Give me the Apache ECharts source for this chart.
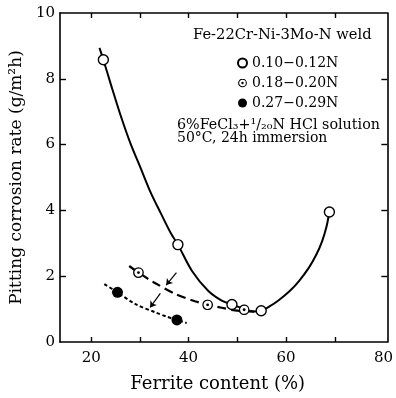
<!DOCTYPE html>
<html>
<head>
<meta charset="utf-8">
<script src="https://cdn.jsdelivr.net/npm/echarts@6/dist/echarts.min.js"></script>
<style>
  html, body { margin: 0; padding: 0; background: #fff; }
  #chart { width: 396px; height: 398px; }
</style>
</head>
<body>
<div id="chart"></div>
<script>
// measured points (ferrite %, rate g/m2h)
const lowN = [[22.5, 8.58], [37.8, 2.96], [48.9, 1.14], [54.9, 0.95], [68.9, 3.95]]
const midN = [[29.7, 2.11], [43.9, 1.13], [51.4, 0.98]]
const highN = [[25.4, 1.51], [37.6, 0.67]]

// hand drawn trend curves
const lowCurve = [[21.7, 8.94], [22.5, 8.58], [24.1, 7.8], [26.1, 6.86], [28.1, 6.02], [30.2, 5.27],
  [32.2, 4.55], [34.2, 3.94], [36.3, 3.32], [37.8, 2.96], [40.7, 2.16], [44.0, 1.56], [46.8, 1.26],
  [48.9, 1.14], [51.5, 1.0], [53.3, 0.93], [54.9, 0.95], [56.6, 1.08], [58.5, 1.27], [60.7, 1.54],
  [62.7, 1.86], [64.7, 2.26], [66.2, 2.65], [67.4, 3.06], [68.3, 3.5], [68.9, 3.95]]
const midCurve = [[27.8, 2.31], [29.7, 2.11], [32.9, 1.81], [37.3, 1.46], [41.3, 1.24], [43.9, 1.13],
  [46.8, 1.04], [49.5, 0.96], [51.4, 0.94], [53.5, 0.92]]
const highCurve = [[22.7, 1.76], [25.4, 1.51], [29.1, 1.15], [33.2, 0.9], [35.5, 0.77],
  [37.6, 0.67], [39.6, 0.58]]
const arrows = [[[37.5, 2.11], [35.4, 1.73]], [[34.2, 1.48], [32.1, 1.05]]]

const names = ['0.10\u22120.12N', '0.18\u22120.20N', '0.27\u22120.29N']
const xTicks = [20, 30, 40, 50, 60, 70]
const xLabels = [20, 40, 60, 80]
const yTicks = [2, 4, 6, 8]
const yLabels = [0, 2, 4, 6, 8, 10]

const font = 'DejaVu Serif'
const ringDot = 'image://data:image/svg+xml;charset=utf-8,' + encodeURIComponent(
  '<svg xmlns="http://www.w3.org/2000/svg" width="20" height="20" viewBox="0 0 20 20">' +
  '<circle cx="10" cy="10" r="8.6" fill="#fff" stroke="#000" stroke-width="2.4"/>' +
  '<circle cx="10" cy="10" r="2.6" fill="#000"/></svg>')

const axisLine = { show: true, onZero: false, lineStyle: { color: '#000', width: 1.6 } }
const tickStyle = { color: '#000', width: 1.4 }

var option = {
  animation: false,
  backgroundColor: '#fff',
  grid: { left: 59, right: 7, top: 13, bottom: 52 },
  legend: {
    orient: 'vertical',
    left: 232,
    top: 51,
    itemWidth: 9,
    itemHeight: 9,
    itemGap: 6,
    data: names,
    textStyle: { fontFamily: font, fontSize: 14, color: '#000' }
  },
  xAxis: [{
    type: 'value',
    min: 13.6,
    max: 80.8,
    name: 'Ferrite content (%)',
    nameLocation: 'middle',
    nameGap: 33,
    nameTextStyle: { fontFamily: font, fontSize: 18, color: '#000', padding: [0, 12, 0, 0] },
    axisLine: axisLine,
    splitLine: { show: false },
    axisTick: { inside: true, length: 5, customValues: xTicks, lineStyle: tickStyle },
    axisLabel: { customValues: xLabels, margin: 9, fontFamily: font, fontSize: 15, color: '#000' }
  }, {
    type: 'value',
    position: 'top',
    min: 13.6,
    max: 80.8,
    axisLine: axisLine,
    splitLine: { show: false },
    axisTick: { inside: true, length: 5, customValues: xTicks, lineStyle: tickStyle },
    axisLabel: { show: false }
  }],
  yAxis: [{
    type: 'value',
    min: 0,
    max: 10,
    name: 'Pitting corrosion rate (g/m\u00b2h)',
    nameLocation: 'middle',
    nameGap: 35,
    nameTextStyle: { fontFamily: font, fontSize: 17, color: '#000' },
    axisLine: axisLine,
    splitLine: { show: false },
    axisTick: { inside: true, length: 6, customValues: yTicks, lineStyle: tickStyle },
    axisLabel: { customValues: yLabels, margin: 5, fontFamily: font, fontSize: 15, color: '#000' }
  }, {
    type: 'value',
    position: 'right',
    min: 0,
    max: 10,
    axisLine: axisLine,
    splitLine: { show: false },
    axisTick: { inside: true, length: 6, customValues: yTicks, lineStyle: tickStyle },
    axisLabel: { show: false }
  }],
  graphic: [
    { type: 'text', left: 193, top: 28, style: { text: 'Fe-22Cr-Ni-3Mo-N weld', font: '14.7px "DejaVu Serif"', fill: '#000' } },
    { type: 'text', left: 177, top: 118, style: { text: '6%FeCl\u2083+\u00b9/\u2082\u2080N HCl solution', font: '14.3px "DejaVu Serif"', fill: '#000' } },
    { type: 'text', left: 177, top: 131, style: { text: '50\u00b0C, 24h immersion', font: '14px "DejaVu Serif"', fill: '#000' } }
  ],
  series: [
    {
      type: 'line', data: lowCurve, smooth: 0.3, symbol: 'none', z: 2,
      lineStyle: { color: '#000', width: 2 }
    },
    {
      type: 'line', data: midCurve, smooth: 0.3, symbol: 'none', z: 2,
      lineStyle: { color: '#000', width: 2.2, type: [9, 5] }
    },
    {
      type: 'line', data: highCurve, smooth: 0.3, symbol: 'none', z: 2,
      lineStyle: { color: '#000', width: 2, type: [3.5, 2.5] }
    },
    {
      type: 'lines', coordinateSystem: 'cartesian2d', z: 2,
      symbol: ['none', 'arrow'], symbolSize: 6,
      lineStyle: { color: '#000', width: 1.2, opacity: 1 },
      data: arrows.map(a => ({ coords: a }))
    },
    {
      name: names[0], type: 'scatter', data: lowN, symbol: 'circle', symbolSize: 10, z: 5,
      itemStyle: { color: '#fff', borderColor: '#000', borderWidth: 1.4, opacity: 1 }
    },
    {
      name: names[1], type: 'scatter', data: midN, symbol: ringDot, symbolSize: 11, z: 5,
      itemStyle: { color: '#000', opacity: 1 }
    },
    {
      name: names[2], type: 'scatter', data: highN, symbol: 'circle', symbolSize: 11, z: 5,
      itemStyle: { color: '#000', opacity: 1 }
    }
  ]
}

let myChart = echarts.init(document.getElementById('chart'))
myChart.setOption(option)
</script>
</body>
</html>
